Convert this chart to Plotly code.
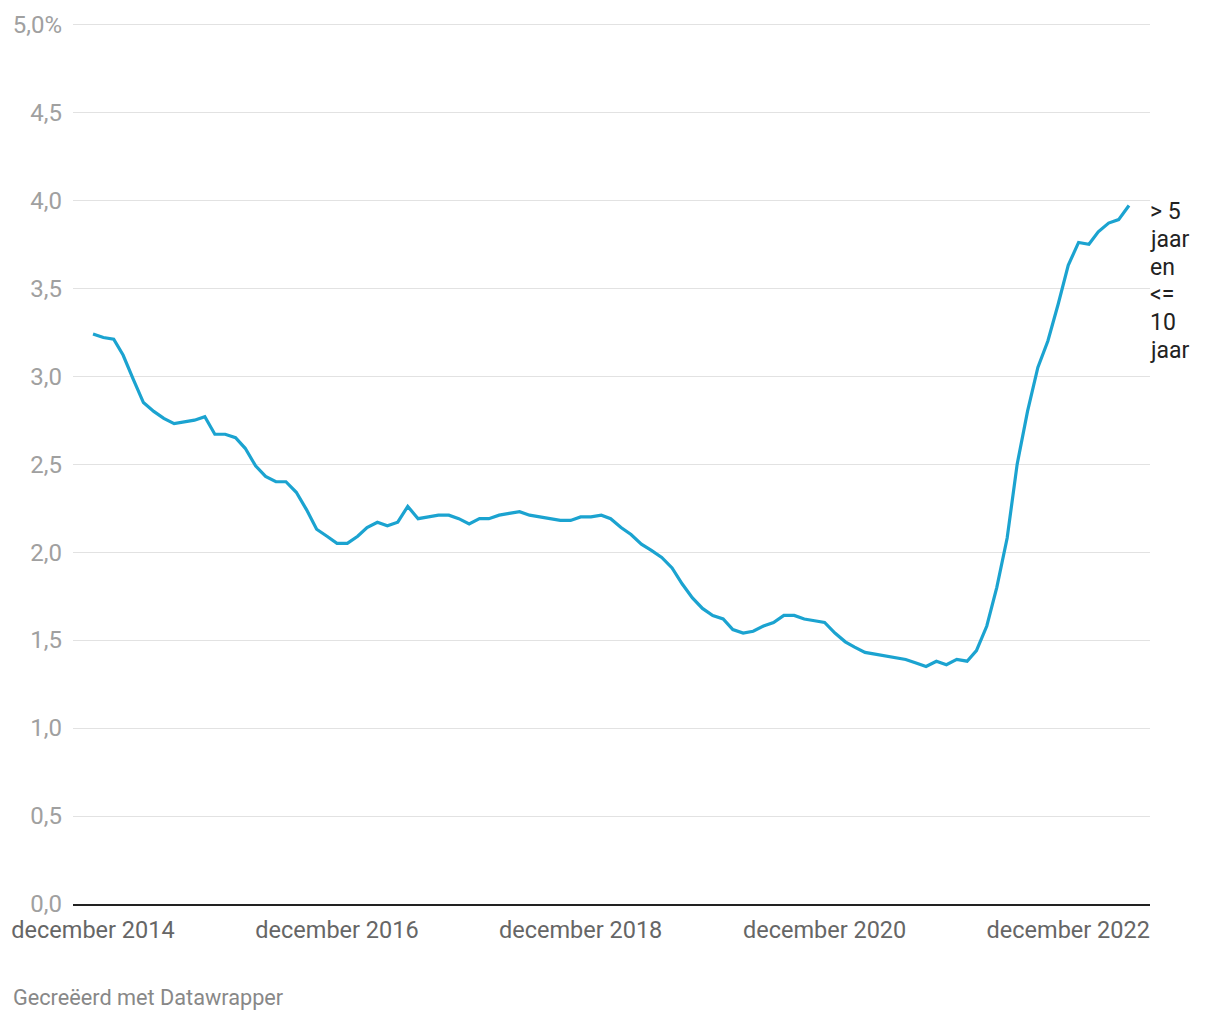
import plotly.graph_objects as go
import pandas as pd

# maandelijkse rente, december 2014 t/m juni 2023
months = pd.date_range("2014-12-01", "2023-06-01", freq="MS")
rente = [3.24, 3.22, 3.21, 3.12, 2.98, 2.85, 2.80, 2.76, 2.73, 2.74, 2.75, 2.77,
         2.67, 2.67, 2.65, 2.59, 2.49, 2.43, 2.40, 2.40, 2.34, 2.24, 2.13, 2.09,
         2.05, 2.05, 2.09, 2.14, 2.17, 2.15, 2.17, 2.26, 2.19, 2.20, 2.21, 2.21,
         2.19, 2.16, 2.19, 2.19, 2.21, 2.22, 2.23, 2.21, 2.20, 2.19, 2.18, 2.18,
         2.20, 2.20, 2.21, 2.19, 2.14, 2.10, 2.045, 2.01, 1.97, 1.91, 1.82, 1.74,
         1.68, 1.64, 1.62, 1.56, 1.54, 1.55, 1.58, 1.60, 1.64, 1.64, 1.62, 1.61,
         1.60, 1.54, 1.49, 1.46, 1.43, 1.42, 1.41, 1.40, 1.39, 1.37, 1.35, 1.38,
         1.36, 1.39, 1.38, 1.44, 1.58, 1.80, 2.08, 2.50, 2.80, 3.05, 3.20, 3.41,
         3.63, 3.76, 3.75, 3.82, 3.87, 3.89, 3.97]

serie_naam = ["> 5", "jaar", "en", "<=", "10", "jaar"]

y_ticks = [0, 0.5, 1, 1.5, 2, 2.5, 3, 3.5, 4, 4.5, 5]
y_labels = ["0,0", "0,5", "1,0", "1,5", "2,0", "2,5", "3,0", "3,5", "4,0", "4,5", "5,0%"]
x_ticks = ["2014-12-01", "2016-12-01", "2018-12-01", "2020-12-01", "2022-12-01"]
x_labels = ["december 2014", "december 2016", "december 2018", "december 2020", "december 2022"]

fig = go.Figure()
fig.add_trace(go.Scatter(x=months, y=rente, mode="lines",
                         line=dict(color="#1ba3d0", width=3.2),
                         hoverinfo="x+y"))

# label rechts van de lijn, regel voor regel (datawrapper-regelafstand)
for i, regel in enumerate(serie_naam):
    fig.add_annotation(x=months[-1], y=rente[-1], text=regel,
                       xanchor="left", yanchor="middle", align="left",
                       showarrow=False, xshift=19, yshift=-(6 + 27.8 * i),
                       font=dict(size=23, color="#222"))

fig.add_annotation(x=0, y=0, xref="paper", yref="paper", xanchor="left", yanchor="middle",
                   text="Gecreëerd met Datawrapper", showarrow=False,
                   xshift=-62, yshift=-93,
                   font=dict(size=21.7, color="#888"))

fig.update_layout(
    width=1204, height=1004,
    margin=dict(l=65, r=62, t=10.7, b=108, autoexpand=False),
    plot_bgcolor="white", paper_bgcolor="white",
    font=dict(family="Roboto", size=20),
    showlegend=False,
)
fig.update_xaxes(range=["2014-10-02", "2023-08-03"], tickvals=x_ticks, ticktext=x_labels,
                 showgrid=False, tickfont=dict(color="#666", size=23.5), ticks="",
                 showline=True, linecolor="#222", linewidth=2, ticklabelstandoff=4,
                 automargin=False)
fig.update_yaxes(range=[0, 5.03], tickvals=y_ticks, ticktext=y_labels,
                 gridcolor="#e2e2e2", gridwidth=1, zeroline=False,
                 tickfont=dict(color="#a0a0a0", size=24), ticks="", ticklabelstandoff=10,
                 automargin=False)

fig.write_html("out.html")
